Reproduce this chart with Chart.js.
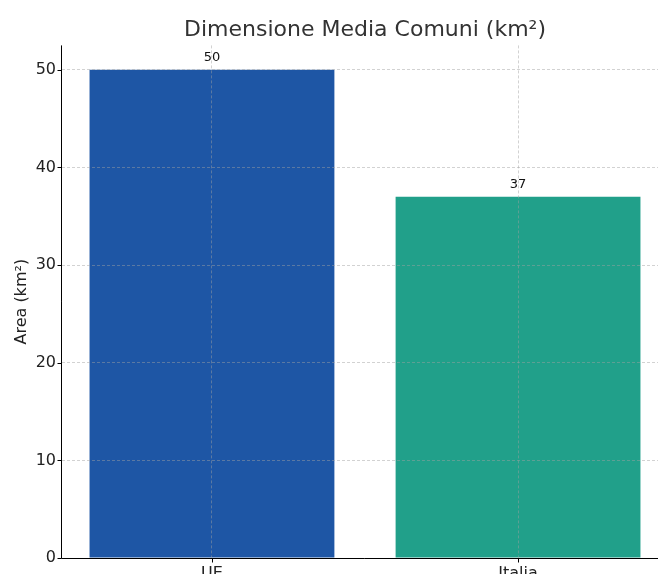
<!DOCTYPE html>
<html>
<head>
<meta charset="utf-8">
<script src="https://cdn.jsdelivr.net/npm/chart.js@4"></script>
<style>
html,body{margin:0;padding:0;background:#fff;overflow:hidden}
#wrap{width:668px;height:590px}
</style>
</head>
<body>
<div id="wrap"><canvas id="c" width="668" height="590"></canvas></div>
<script>
const categories=["UE","Italia"]
const areaValues=[50,37]
const barColors=["#1e56a5","#21a08a"]
const yTicks=[0,10,20,30,40,50]
const yMax=52.5
const xMin=-0.49
const xMax=1.49

const font="'DejaVu Sans', sans-serif"
const gridColor="rgba(160,160,160,0.6)"

// numbers above each bar
const barLabels={
id:"barLabels",
afterDatasetsDraw(chart){
const ctx=chart.ctx
const meta=chart.getDatasetMeta(0)
ctx.save()
ctx.font="13px "+font
ctx.fillStyle="#111"
ctx.textAlign="center"
ctx.textBaseline="bottom"
meta.data.forEach((bar,i)=>{
ctx.fillText(String(areaValues[i]),bar.x,bar.y-6)
})
ctx.restore()
}
}

// left and bottom spines + tick marks (grid sits above bars, so these are drawn here)
const spines={
id:"spines",
afterDraw(chart){
const a=chart.chartArea
const xs=chart.scales.x
const ys=chart.scales.y
const ctx=chart.ctx
const L=Math.round(a.left)-0.5
const B=Math.round(a.bottom)+0.5
ctx.save()
ctx.setLineDash([])
ctx.strokeStyle="#000"
ctx.lineWidth=1
ctx.beginPath()
ctx.moveTo(L,a.top)
ctx.lineTo(L,B)
ctx.lineTo(a.right,B)
yTicks.forEach(v=>{
const y=Math.round(ys.getPixelForValue(v))+0.5
ctx.moveTo(L-4,y)
ctx.lineTo(L,y)
})
categories.forEach((c,i)=>{
const x=Math.round(xs.getPixelForValue(i))+0.5
ctx.moveTo(x,B)
ctx.lineTo(x,B+4)
})
ctx.stroke()
ctx.restore()
}
}

new Chart(document.getElementById("c"),{
type:"bar",
data:{datasets:[{data:areaValues.map((v,i)=>({x:i,y:v})),backgroundColor:barColors,barPercentage:0.8,categoryPercentage:1}]},
options:{
responsive:false,
animation:false,
layout:{padding:0},
plugins:{
legend:{display:false},
tooltip:{enabled:false},
title:{display:true,text:"Dimensione Media Comuni (km²)",fullSize:false,color:"#333",
font:{family:font,size:22,weight:"normal"},padding:{top:17,bottom:2}}
},
scales:{
x:{
type:"linear",
offset:false,
min:xMin,max:xMax,
afterBuildTicks(s){s.ticks=categories.map((c,i)=>({value:i}))},
grid:{z:1,offset:false,color:gridColor,lineWidth:0.8,tickColor:"rgba(0,0,0,0)",tickLength:4},
border:{display:false,dash:[3,2]},
ticks:{color:"#222",font:{family:font,size:16},padding:2,callback:v=>categories[v]},
afterFit(s){s.height=32}
},
y:{
min:0,max:yMax,
afterBuildTicks(s){s.ticks=yTicks.map(v=>({value:v}))},
grid:{z:1,color:gridColor,lineWidth:0.8,tickColor:"rgba(0,0,0,0)",tickLength:4},
border:{display:false,dash:[3,2]},
ticks:{color:"#222",font:{family:font,size:16},padding:2},
title:{display:true,text:"Area (km²)",color:"#222",font:{family:font,size:16},padding:{top:12,bottom:0}},
afterFit(s){s.width=62}
}
}
},
plugins:[barLabels,spines]
})
</script>
</body>
</html>
